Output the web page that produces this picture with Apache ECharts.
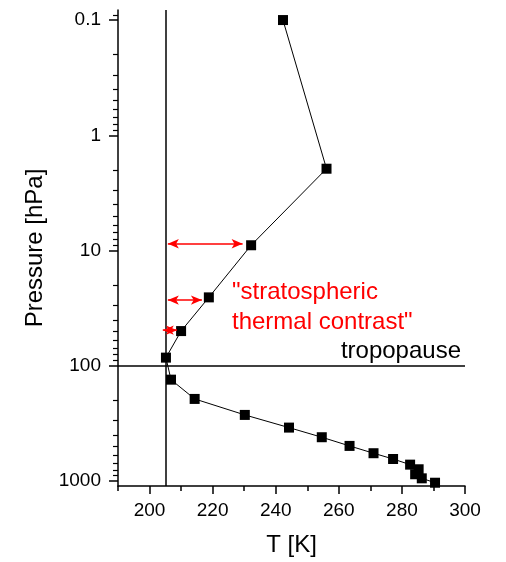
<!DOCTYPE html>
<html>
<head>
<meta charset="utf-8">
<script src="https://cdn.jsdelivr.net/npm/echarts@6/dist/echarts.min.js"></script>
<style>html,body{margin:0;padding:0;background:#fff;}#c{width:506px;height:562px;}</style>
</head>
<body>
<div id="c"></div>
<script>
// ---- data ----
const temperature = [242.3, 256.1, 232.2, 218.8, 210.0, 205.2, 206.8, 214.3, 230.2, 244.2, 254.6, 263.4, 271.0, 277.2, 282.6, 285.3, 284.2, 286.3, 290.5];
const pressure    = [0.1, 1.95, 9.0, 25.5, 50, 85, 132, 194, 267, 344, 417, 496, 574, 644, 721, 791, 874, 948, 1035];

const arrowLevel = [8.74, 26.9, 49.1];
const arrowStart = [205.8, 205.8, 204.2];
const arrowEnd   = [229.5, 216.6, 208.7];

const tropopauseT = 205;
const tropopauseP = 100;

const xMajorTicks = [200, 220, 240, 260, 280, 300];
const xMinorTicks = [190, 210, 230, 250, 270, 290];
const yMajorTicks = [0.1, 1, 10, 100, 1000];
const yMinorTicks = [0.09, 0.2, 0.3, 0.4, 0.5, 0.6, 0.7, 0.8, 0.9,
                     2, 3, 4, 5, 6, 7, 8, 9,
                     20, 30, 40, 50, 60, 70, 80, 90,
                     200, 300, 400, 500, 600, 700, 800, 900];

const FONT = '"Liberation Sans", Arial, sans-serif';
const points = temperature.map((t, i) => [t, pressure[i]]);
const arrows = arrowLevel.map((p, i) => [{coord: [arrowStart[i], p]}, {coord: [arrowEnd[i], p]}]);

const yBase = {
  type: 'log', logBase: 10, inverse: true, min: 0.0818, max: 1105,
  position: 'left', splitLine: {show: false}
};
const xBase = {
  type: 'value', min: 190, max: 300, interval: 10,
  position: 'bottom', splitLine: {show: false}
};

const chart = echarts.init(document.getElementById('c'), null, {renderer: 'canvas'});
chart.setOption({
  animation: false,
  backgroundColor: '#fff',
  textStyle: {fontFamily: FONT},
  grid: {left: 118, right: 41, top: 10, bottom: 76, containLabel: false},
  xAxis: [
    Object.assign({}, xBase, {
      name: 'T [K]', nameLocation: 'middle', nameGap: 47,
      nameTextStyle: {fontSize: 24, color: '#000', fontFamily: FONT},
      axisLine: {show: true, lineStyle: {color: '#000', width: 1.5}},
      axisTick: {show: true, inside: false, length: 8, customValues: xMajorTicks, lineStyle: {color: '#000', width: 1.5}},
      axisLabel: {show: true, customValues: xMajorTicks, margin: 15, fontSize: 19, color: '#000', fontFamily: FONT}
    }),
    Object.assign({}, xBase, {
      axisLine: {show: false},
      axisTick: {show: true, inside: false, length: 5, customValues: xMinorTicks, lineStyle: {color: '#000', width: 1.5}},
      axisLabel: {show: false}
    })
  ],
  yAxis: [
    Object.assign({}, yBase, {
      name: 'Pressure [hPa]', nameLocation: 'middle', nameGap: 62,
      nameTextStyle: {fontSize: 24, color: '#000', fontFamily: FONT},
      axisLine: {show: true, lineStyle: {color: '#000', width: 1.5}},
      axisTick: {show: true, inside: false, length: 9, customValues: yMajorTicks, lineStyle: {color: '#000', width: 1.5}},
      axisLabel: {show: true, customValues: yMajorTicks, margin: 17, fontSize: 19, color: '#000', fontFamily: FONT,
                  formatter: v => String(v)}
    }),
    Object.assign({}, yBase, {
      axisLine: {show: false},
      axisTick: {show: true, inside: false, length: 5, customValues: yMinorTicks, lineStyle: {color: '#000', width: 1.2}},
      axisLabel: {show: false}
    })
  ],
  series: [
    {
      name: 'guides', type: 'line', data: [], z: 1, silent: true,
      markLine: {
        silent: true, symbol: ['none', 'none'], animation: false,
        label: {show: false},
        lineStyle: {color: '#000', width: 1.5, type: 'solid'},
        emphasis: {disabled: true},
        data: [{xAxis: tropopauseT}, {yAxis: tropopauseP}]
      }
    },
    {
      name: 'arrows', type: 'line', data: [], z: 2, silent: true,
      markLine: {
        silent: true, symbol: ['arrow', 'arrow'], symbolSize: [7, 11], animation: false,
        label: {show: false},
        lineStyle: {color: '#ff0000', width: 1.5, type: 'solid'},
        itemStyle: {color: '#ff0000'},
        emphasis: {disabled: true},
        data: arrows
      }
    },
    {
      name: 'profile', type: 'line', data: points, z: 3,
      symbol: 'rect', symbolSize: 10, showAllSymbol: true,
      lineStyle: {color: '#000', width: 1},
      itemStyle: {color: '#000'}
    }
  ],
  graphic: [
    {
      type: 'text', left: 232, top: 277, z: 10, silent: true,
      style: {text: '"stratospheric\nthermal contrast"', fill: '#ff0000', font: '24px ' + FONT, lineHeight: 30}
    },
    {
      type: 'text', right: 45, top: 339, z: 10, silent: true,
      style: {text: 'tropopause', fill: '#000', font: '24px ' + FONT, align: 'right'}
    }
  ]
});
</script>
</body>
</html>
